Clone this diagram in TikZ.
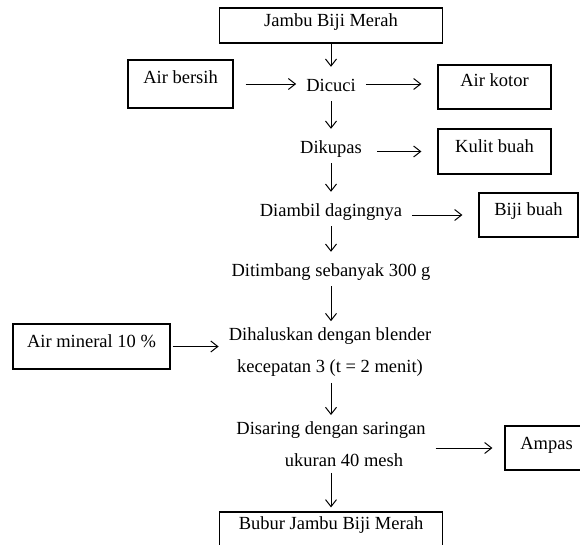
\documentclass[tikz,border=0pt]{standalone}
\usepackage{fontspec}
\setmainfont{Liberation Serif}
\usetikzlibrary{arrows.meta}

\begin{document}
\begin{tikzpicture}[x=1pt,y=-1pt,
    font=\fontsize{18.5}{32.5}\selectfont,
    kotak/.style={draw,line width=1.2pt,inner sep=0pt},
    proses/.style={inner xsep=10pt,inner ysep=7pt,text height=17pt,text depth=3pt},
    proses2/.style={align=center,inner xsep=10pt,inner ysep=6pt},
    panah/.style={line width=1pt,-{Straight Barb[length=7pt,width=11pt]}}]
    \useasboundingbox (0,0) rectangle (580,544);

    % Bahan awal dan produk akhir
    \node[kotak,minimum width=223pt,minimum height=35pt,text height=18pt,text depth=17pt] (jambu) at (331,25.5) {Jambu Biji Merah};
    \node[kotak,minimum width=223pt,minimum height=35pt,text height=17pt,text depth=18pt] (bubur) at (331,529.5) {Bubur Jambu Biji Merah};

    % Tahapan proses
    \node[proses,anchor=base] (dicuci) at (331,91) {Dicuci};
    \node[proses,anchor=base] (dikupas) at (331,153) {Dikupas};
    \node[proses,anchor=base] (diambil) at (331,216) {Diambil dagingnya};
    \node[proses,anchor=base] (ditimbang) at (331,276) {Ditimbang sebanyak 300 g};
    \node[proses2] (haluskan) at (330,352) {Dihaluskan dengan blender\\kecepatan 3 (t = 2 menit)};
    \node[proses2] (saring) at (331,444) {Disaring dengan saringan\\\hspace*{26pt}ukuran 40 mesh};

    % Bahan masuk dan keluar
    \node[kotak,minimum width=105pt,minimum height=48pt,text height=23pt,text depth=25pt] (airbersih) at (180.5,84) {Air bersih};
    \node[kotak,minimum width=113pt,minimum height=44pt,text height=21pt,text depth=23pt] (airkotor) at (494.5,87) {Air kotor};
    \node[kotak,minimum width=113pt,minimum height=45pt,text height=23pt,text depth=22pt] (kulit) at (494.5,151.5) {Kulit buah};
    \node[kotak,minimum width=99pt,minimum height=44pt,text height=22pt,text depth=22pt] (biji) at (528.5,215) {Biji buah};
    \node[kotak,minimum width=157pt,minimum height=45pt,text height=23pt,text depth=22pt] (airmin) at (91.5,346.5) {Air mineral 10 \%};
    \node[kotak,minimum width=83pt,minimum height=44pt,text height=23pt,text depth=21pt] (ampas) at (546.5,448) {Ampas};

    % Alur utama
    \draw[panah] (jambu) -- (dicuci);
    \draw[panah] (dicuci) -- (dikupas);
    \draw[panah] (dikupas) -- (diambil);
    \draw[panah] (diambil) -- (ditimbang);
    \draw[panah] (ditimbang) -- (ditimbang |- haluskan.north);
    \draw[panah] (haluskan.south -| saring) -- (saring);
    \draw[panah,shorten >=4pt] (saring) -- (bubur);

    % Alur samping
    \draw[panah,shorten <=12pt] (airbersih.east |- dicuci) -- (dicuci);
    \draw[panah,shorten >=16pt] (dicuci) -- (dicuci -| airkotor.west);
    \draw[panah,shorten <=5pt,shorten >=16pt] (dikupas.east |- kulit) -- (kulit);
    \draw[panah,shorten >=16pt] (diambil.east |- biji) -- (biji);
    \draw[panah,shorten <=2pt] (airmin.east) -- (airmin.east -| haluskan.west);
    \draw[panah,shorten >=12pt] (saring.east |- ampas) -- (ampas);
\end{tikzpicture}
\end{document}
